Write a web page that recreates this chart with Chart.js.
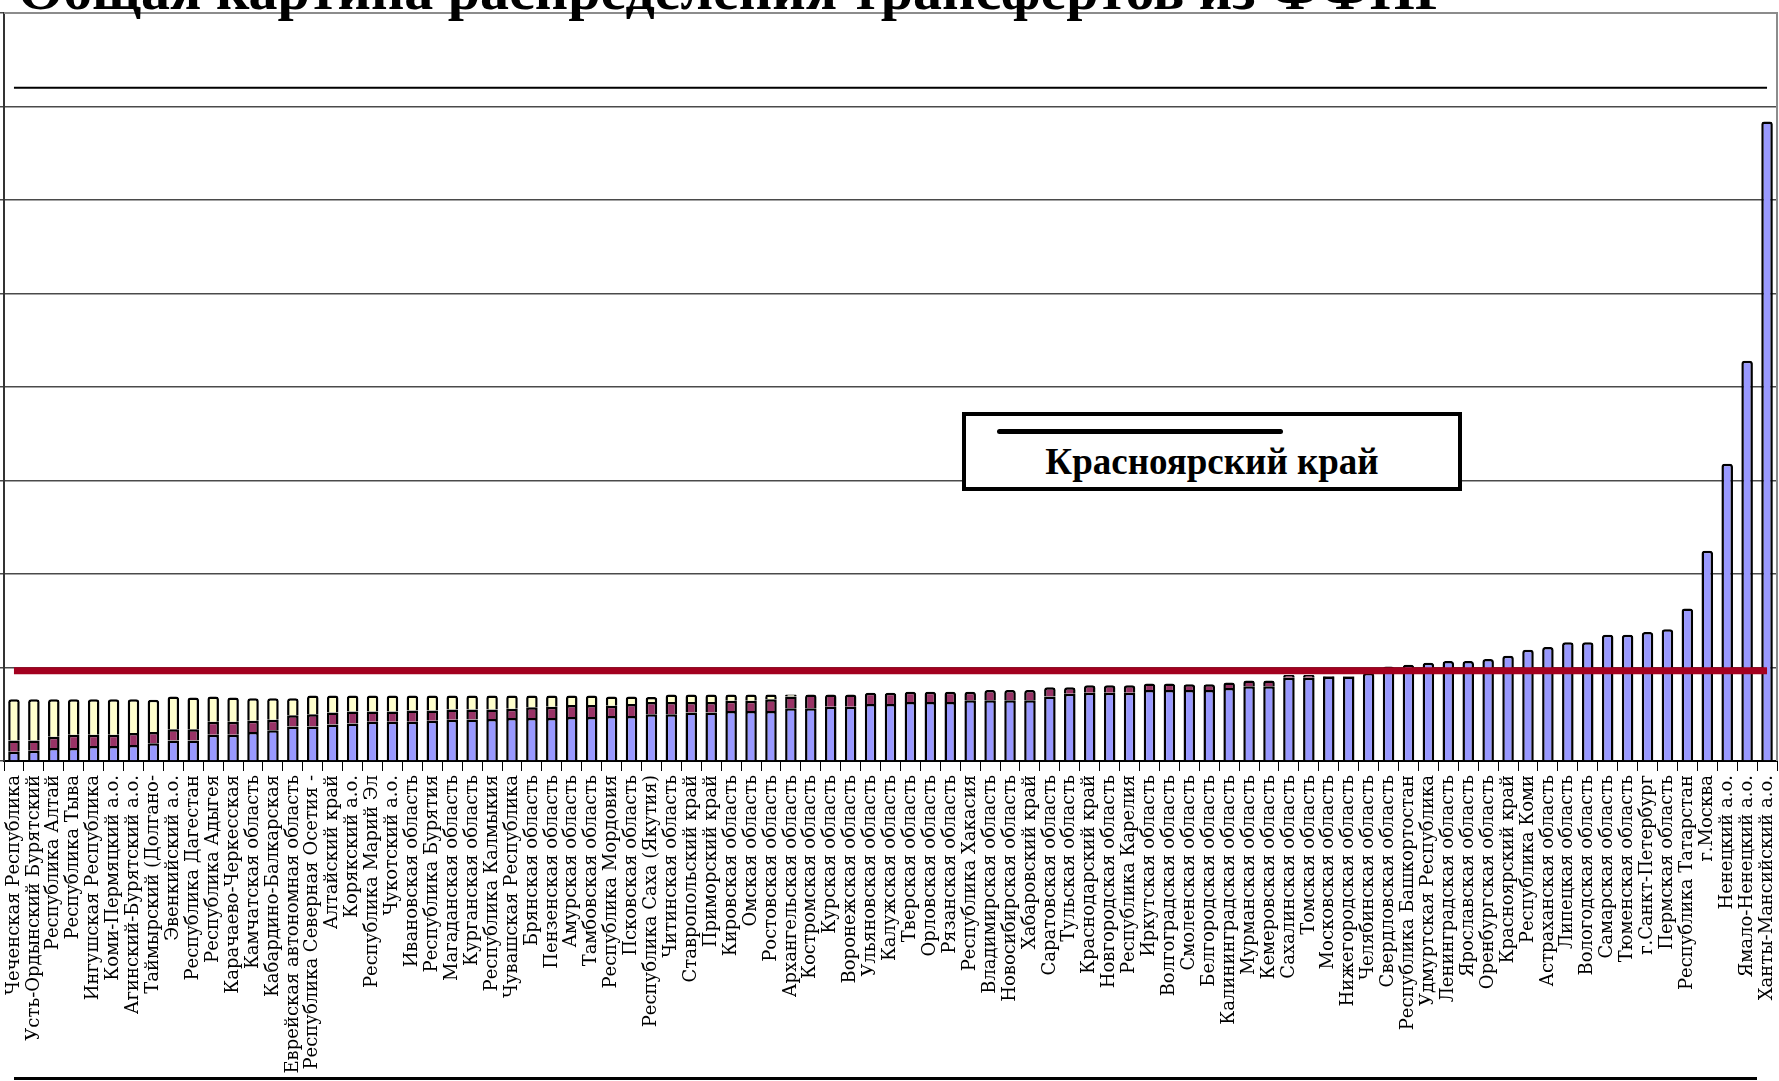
<!DOCTYPE html>
<html lang="ru">
<head>
<meta charset="utf-8">
<title>Общая картина распределения трансфертов из ФФПР</title>
<script src="https://cdn.jsdelivr.net/npm/chart.js@4.4.1/dist/chart.umd.min.js"></script>
<style>
	html, body { margin: 0; padding: 0; background: #fff; overflow: hidden; }
	#wrap { position: relative; width: 1779px; height: 1081px; overflow: hidden; }
	#chart-box { position: absolute; left: 0; top: 0; width: 1779px; height: 1081px; }
	#title { position: absolute; left: 18px; top: -39px; font: bold 58px "Liberation Serif", serif; line-height: 58px; white-space: nowrap; z-index: 2; }
	#legend { position: absolute; left: 962px; top: 412px; width: 492px; height: 71px; border: 4px solid #000; background: #fff; z-index: 2; }
	#legend .sample { position: absolute; left: 31px; top: 13px; width: 286px; height: 5px; background: #000; border-radius: 3px; }
	#legend .text { position: absolute; left: 0; right: 0; top: 26px; text-align: center; font: bold 37px "Liberation Serif", serif; line-height: 40px; }
	#bottom-rule { position: absolute; left: 14px; top: 1077px; width: 1743px; height: 3px; background: #000; z-index: 2; }
</style>
</head>
<body>
<div id="wrap">
	<div id="chart-box"><canvas id="chart"></canvas></div>
	<div id="title">Общая картина распределения трансфертов из ФФПР</div>
	<div id="legend"><div class="sample"></div><div class="text">Красноярский край</div></div>
	<div id="bottom-rule"></div>
</div>
<script>
const regions = [
	"Чеченская Республика", "Усть-Ордынский Бурятский", "Республика Алтай", "Республика Тыва",
	"Ингушская Республика", "Коми-Пермяцкий а.о.", "Агинский-Бурятский а.о.", "Таймырский (Долгано-",
	"Эвенкийский а.о.", "Республика Дагестан", "Республика Адыгея", "Карачаево-Черкесская",
	"Камчатская область", "Кабардино-Балкарская", "Еврейская автономная область", "Республика Северная Осетия -",
	"Алтайский край", "Корякский а.о.", "Республика Марий Эл", "Чукотский а.о.",
	"Ивановская область", "Республика Бурятия", "Магаданская область", "Курганская область",
	"Республика Калмыкия", "Чувашская Республика", "Брянская область", "Пензенская область",
	"Амурская область", "Тамбовская область", "Республика Мордовия", "Псковская область",
	"Республика Саха (Якутия)", "Читинская область", "Ставропольский край", "Приморский край",
	"Кировская область", "Омская область", "Ростовская область", "Архангельская область",
	"Костромская область", "Курская область", "Воронежская область", "Ульяновская область",
	"Калужская область", "Тверская область", "Орловская область", "Рязанская область",
	"Республика Хакасия", "Владимирская область", "Новосибирская область", "Хабаровский край",
	"Саратовская область", "Тульская область", "Краснодарский край", "Новгородская область",
	"Республика Карелия", "Иркутская область", "Волгоградская область", "Смоленская область",
	"Белгородская область", "Калининградская область", "Мурманская область", "Кемеровская область",
	"Сахалинская область", "Томская область", "Московская область", "Нижегородская область",
	"Челябинская область", "Свердловская область", "Республика Башкортостан", "Удмуртская Республика",
	"Ленинградская область", "Ярославская область", "Оренбургская область", "Красноярский край",
	"Республика Коми", "Астраханская область", "Липецкая область", "Вологодская область",
	"Самарская область", "Тюменская область", "г.Санкт-Петербург", "Пермская область",
	"Республика Татарстан", "г.Москва", "Ненецкий а.о.", "Ямало-Ненецкий а.о.",
	"Ханты-Мансийский а.о.",
];

// bottom (blue) part of each bar
const lowerPart = [
	0.10, 0.11, 0.14, 0.14, 0.16, 0.16, 0.17, 0.19, 0.22, 0.22,
	0.28, 0.28, 0.31, 0.33, 0.37, 0.37, 0.39, 0.40, 0.42, 0.42,
	0.42, 0.43, 0.44, 0.445, 0.45, 0.46, 0.46, 0.46, 0.47, 0.47,
	0.48, 0.48, 0.50, 0.50, 0.52, 0.52, 0.535, 0.535, 0.535, 0.565,
	0.565, 0.58, 0.58, 0.61, 0.61, 0.63, 0.63, 0.63, 0.65, 0.65,
	0.65, 0.65, 0.69, 0.72, 0.73, 0.73, 0.73, 0.76, 0.76, 0.76,
	0.76, 0.78, 0.80, 0.80, 0.89, 0.89, 0.90, 0.905, 0.94, 1.01,
	1.03, 1.05, 1.07, 1.07, 1.09, 1.125, 1.19, 1.22, 1.27, 1.27,
	1.35, 1.35, 1.38, 1.41, 1.63, 2.25, 3.18, 4.28, 6.84,
];

// middle (dark red) part
const middlePart = [
	0.12, 0.11, 0.12, 0.14, 0.12, 0.12, 0.13, 0.12, 0.12, 0.12,
	0.14, 0.14, 0.12, 0.11, 0.12, 0.13, 0.13, 0.13, 0.11, 0.11,
	0.12, 0.11, 0.11, 0.105, 0.10, 0.10, 0.115, 0.12, 0.13, 0.13,
	0.11, 0.13, 0.13, 0.13, 0.11, 0.11, 0.11, 0.11, 0.125, 0.125,
	0.145, 0.13, 0.13, 0.12, 0.12, 0.11, 0.11, 0.11, 0.09, 0.11,
	0.11, 0.11, 0.10, 0.07, 0.08, 0.08, 0.08, 0.07, 0.07, 0.06,
	0.06, 0.06, 0.06, 0.06, 0.03, 0.03, 0.01, 0.005, null, null,
	null, null, null, null, null, null, null, null, null, null,
	null, null, null, null, null, null, null, null, null,
];

// top (light yellow) part
const upperPart = [
	0.44, 0.44, 0.40, 0.38, 0.38, 0.38, 0.36, 0.345, 0.35, 0.34,
	0.27, 0.26, 0.24, 0.23, 0.18, 0.20, 0.18, 0.17, 0.17, 0.17,
	0.16, 0.16, 0.15, 0.15, 0.15, 0.14, 0.125, 0.12, 0.10, 0.10,
	0.10, 0.08, 0.055, 0.08, 0.08, 0.08, 0.065, 0.065, 0.05, 0.02,
	null, null, null, null, null, null, null, null, null, null,
	null, null, null, null, null, null, null, null, null, null,
	null, null, null, null, null, null, null, null, null, null,
	null, null, null, null, null, null, null, null, null, null,
	null, null, null, null, null, null, null, null, null,
];

const averageLevel = 0.965;
const krasnoyarskLevel = 7.2;

// grey frame on top and right of the plot area
const plotFrame = {
	id: "plotFrame",
	beforeDatasetsDraw(chart) {
		const { ctx, chartArea } = chart;
		ctx.save();
		ctx.strokeStyle = "#8c8c8c";
		ctx.lineWidth = 2;
		ctx.beginPath();
		ctx.moveTo(chartArea.left, chartArea.top);
		ctx.lineTo(chartArea.right, chartArea.top);
		ctx.lineTo(chartArea.right, chartArea.bottom);
		ctx.stroke();
		ctx.restore();
	},
};

function barSet(label, data, color) {
	return {
		type: "bar",
		label: label,
		data: data,
		backgroundColor: color,
		borderColor: "#000",
		borderWidth: 2.5,
		borderRadius: 3,
		barPercentage: 0.58,
		categoryPercentage: 1,
		order: 2,
	};
}

function levelLine(label, value, color, width, stack) {
	return {
		type: "line",
		label: label,
		data: regions.map(() => value),
		borderColor: color,
		borderWidth: width,
		pointRadius: 0,
		fill: false,
		stack: stack,
		order: 0,
	};
}

const ctx = document.getElementById("chart");

new Chart(ctx, {
	data: {
		labels: regions,
		datasets: [
			barSet("lower", lowerPart, "#9999ff"),
			barSet("middle", middlePart, "#993366"),
			barSet("upper", upperPart, "#ffffcc"),
			levelLine("Среднее", averageLevel, "#a3001f", 7, "avg"),
			levelLine("Красноярский край", krasnoyarskLevel, "#000", 2, "kras"),
		],
	},
	options: {
		responsive: true,
		maintainAspectRatio: false,
		animation: false,
		layout: {
			padding: { top: 13, right: 2, left: 0, bottom: 0 },
		},
		plugins: {
			legend: { display: false },
			title: { display: false },
			tooltip: { enabled: false },
		},
		scales: {
			x: {
				stacked: true,
				grid: {
					display: true,
					drawOnChartArea: false,
					drawTicks: true,
					tickLength: 10,
					color: "#000",
					lineWidth: 1,
				},
				border: { display: true, color: "#000", width: 2 },
				ticks: {
					autoSkip: false,
					maxRotation: 90,
					minRotation: 90,
					padding: 4,
					color: "#000",
					font: { family: "DejaVu Serif", size: 18 },
				},
				afterFit: (scale) => {
					scale.height = 320;
					scale.paddingLeft = 0;
					scale.paddingRight = 0;
				},
			},
			y: {
				stacked: true,
				min: 0,
				max: 8,
				grid: {
					color: "#4a4a4a",
					lineWidth: 1.5,
					drawTicks: true,
					tickLength: 4,
				},
				border: { display: true, color: "#333", width: 2 },
				ticks: {
					display: false,
					stepSize: 1,
				},
				afterFit: (scale) => {
					scale.width = 4;
				},
			},
		},
	},
	plugins: [plotFrame],
});
</script>
</body>
</html>
